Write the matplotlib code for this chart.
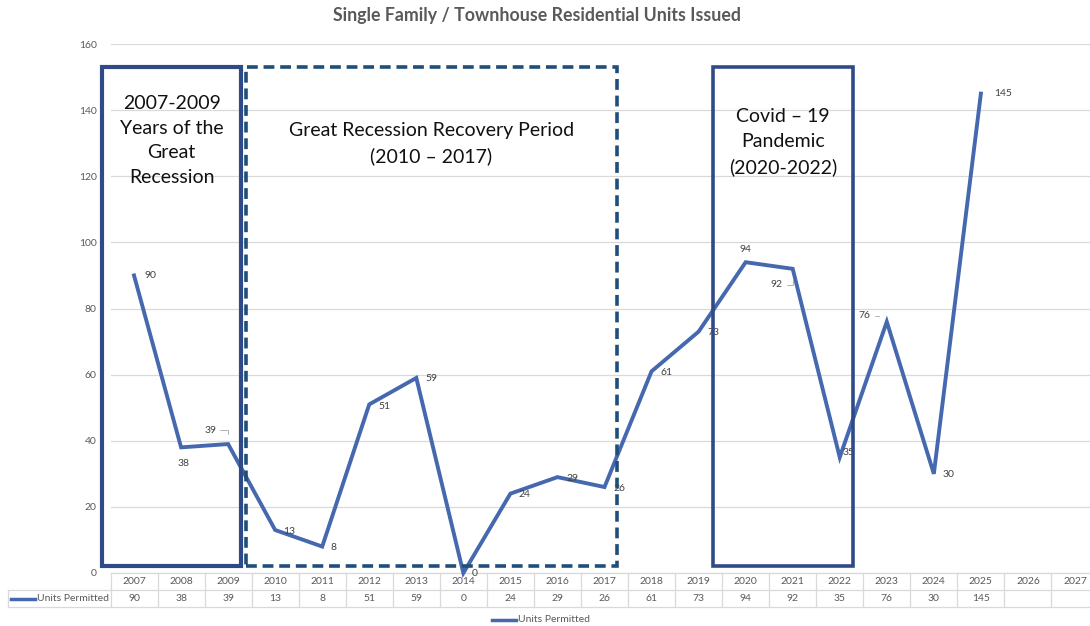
import matplotlib
matplotlib.use("Agg")
import matplotlib.pyplot as plt
import matplotlib.transforms as mtransforms
from matplotlib.patches import Rectangle
from matplotlib.lines import Line2D

plt.rcParams['font.family'] = ['Lato', 'DejaVu Sans']

years = [str(y) for y in range(2007, 2028)]
units = [90, 38, 39, 13, 8, 51, 59, 0, 24, 29, 26, 61, 73, 94, 92, 35, 76, 30, 145]
series_name = "Units Permitted"
title = "Single Family / Townhouse Residential Units Issued"

# label offsets in pixels (dx, dy, ha) for each data label
label_pos = [(10, 0, 'left'), (2, -16, 'center'), (-12, 14, 'right'), (8, -1, 'left'),
             (8, -1, 'left'), (9, -2, 'left'), (9, -1, 'left'), (8, -1, 'left'),
             (8, -1, 'left'), (9, -1, 'left'), (9, -1, 'left'), (9, -1, 'left'),
             (9, -1, 'left'), (0, 13, 'center'), (-10, -16, 'right'), (3, 5, 'left'),
             (-16, 6, 'right'), (9, -1, 'left'), (13, 0, 'left')]
leaders = [2, 14, 16]

line_col = '#4568AE'
box_col = '#2F4B87'
dash_col = '#1F4E79'
grid_col = '#D9D9D9'
txt_gray = '#595959'

W, H = 1090, 626
fig = plt.figure(figsize=(W / 100, H / 100), dpi=100)
ax = fig.add_axes([110.5 / W, 53 / H, 988 / W, 529 / H])

x = list(range(len(units)))
ax.plot(x, units, color=line_col, lw=2.8, solid_joinstyle='miter', clip_on=False, zorder=3)

ax.set_xlim(-0.5, len(years) - 0.5)
ax.set_ylim(0, 160)
ax.set_yticks(range(0, 161, 20))
ax.yaxis.grid(True, color=grid_col, lw=0.9)
ax.set_axisbelow(True)
ax.set_xticks([])
ax.tick_params(axis='y', length=0, pad=10, labelsize=7.5, labelcolor=txt_gray)
for s in ax.spines.values():
    s.set_visible(False)

for i, v in enumerate(units):
    dx, dy, ha = label_pos[i]
    arrow = None
    if i in leaders:
        arrow = dict(arrowstyle='-', color='#A6A6A6', lw=0.6, shrinkA=1, shrinkB=7,
                     connectionstyle='angle,angleA=0,angleB=90,rad=0')
    ax.annotate(str(v), (i, v), xytext=(dx, dy), textcoords='offset pixels',
                ha=ha, va='center', fontsize=7.5, color='#404040', annotation_clip=False,
                arrowprops=arrow)

# period boxes (data coordinates)
boxes = [(-0.68, 2.27, '-', box_col, 3.0),
         (2.38, 10.26, (0, (3, 1.6)), dash_col, 2.6),
         (12.30, 15.28, '-', box_col, 2.6)]
for x0, x1, ls, c, lw in boxes:
    ax.add_patch(Rectangle((x0, 2.1), x1 - x0, 151, fill=False, ls=ls, ec=c,
                           lw=lw, clip_on=False, zorder=4))

box_txt = dict(ha='center', va='center', fontsize=14, color='#111111', linespacing=1.55)
ax.text(0.8, 130.8, "2007-2009\nYears of the\nGreat\nRecession", **box_txt)
ax.text(6.32, 129.8, "Great Recession Recovery Period\n(2010 – 2017)", **box_txt)
ax.text(13.79, 130.4, "Covid – 19\nPandemic\n(2020-2022)", **box_txt)

fig.text(537 / W, 1 - 16 / H, title, ha='center', va='center', fontsize=12.8,
         fontweight='bold', color=txt_gray)

# data table under the axis
tr = mtransforms.blended_transform_factory(ax.transData, fig.transFigure)
y_top, y_mid, y_bot = 53 / H, 36 / H, 19 / H
n = len(years)
for yy in (y_top, y_mid, y_bot):
    ax.add_line(Line2D([-0.5, n - 0.5], [yy, yy], transform=tr, color=grid_col, lw=0.9, clip_on=False))
for i in range(n + 1):
    ax.add_line(Line2D([i - 0.5, i - 0.5], [y_bot, y_top], transform=tr, color=grid_col,
                       lw=0.9, clip_on=False))
fig.add_artist(Line2D([8 / W, 110.5 / W], [y_mid, y_mid], color=grid_col, lw=0.9))
fig.add_artist(Line2D([8 / W, 110.5 / W], [y_bot, y_bot], color=grid_col, lw=0.9))
fig.add_artist(Line2D([8 / W, 8 / W], [y_bot, y_mid], color=grid_col, lw=0.9))
for i, yr in enumerate(years):
    ax.text(i, (y_top + y_mid) / 2, yr, transform=tr, ha='center', va='center',
            fontsize=7.5, color=txt_gray)
    if i < len(units):
        ax.text(i, (y_mid + y_bot) / 2, str(units[i]), transform=tr, ha='center',
                va='center', fontsize=7.5, color=txt_gray)
fig.add_artist(Line2D([11 / W, 35 / W], [(y_mid + y_bot) / 2] * 2, color=line_col, lw=2.5))
fig.text(37 / W, (y_mid + y_bot) / 2, series_name, ha='left', va='center', fontsize=7.5, color=txt_gray)

# legend
fig.add_artist(Line2D([492 / W, 516 / W], [6 / H, 6 / H], color=line_col, lw=2.5))
fig.text(518 / W, 6 / H, series_name, ha='left', va='center', fontsize=7.5, color=txt_gray)

fig.savefig("out.png", dpi=100, facecolor='white')
